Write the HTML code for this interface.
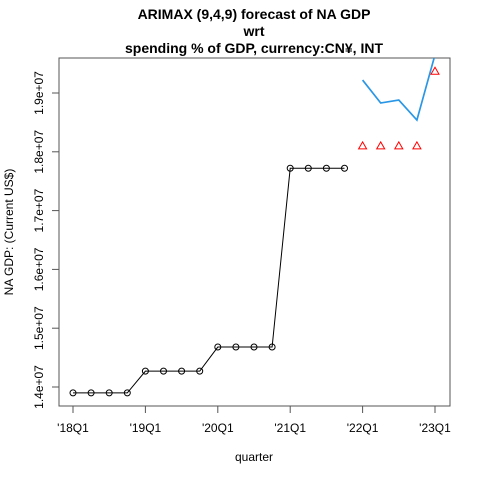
<!DOCTYPE html>
<html><head><meta charset="utf-8"><style>
body{margin:0;background:#fff;}
svg{display:block;font-family:"Liberation Sans",sans-serif;}
</style></head><body>
<svg id="c" width="480" height="480">
<defs><clipPath id="clip"><rect x="59" y="58" width="391" height="348"/></clipPath></defs>
<g font-weight="bold" font-size="14" text-anchor="middle" style="white-space:pre">
<text x="254" y="19">ARIMAX (9,4,9) forecast of  NA GDP</text>
<text x="254" y="36">wrt</text>
<text x="254" y="53">spending % of GDP, currency:CN¥, INT</text>
</g>
<rect x="59" y="58" width="391" height="348" fill="none" stroke="#555" stroke-width="1"/>
<text x="254" y="461" font-size="12" text-anchor="middle">quarter</text>
<text transform="translate(13,232) rotate(-90)" font-size="12" text-anchor="middle">NA GDP: (Current US$)</text>
<g id="axes"></g>
<g id="marks" clip-path="url(#clip)"></g>
</svg>
<script>
const histX=[0,1,2,3,4,5,6,7,8,9,10,11,12,13,14,15];
const histY=[13.9,13.9,13.9,13.9,14.27,14.27,14.27,14.27,14.68,14.68,14.68,14.68,17.72,17.72,17.72,17.72];
const fcX=[16,17,18,19,20];
const fcLine=[19.22,18.83,18.88,18.54,19.65];
const fcTri=[18.1,18.1,18.1,18.1,19.37];
const xTicks=["'18Q1","'19Q1","'20Q1","'21Q1","'22Q1","'23Q1"];
const yTicks=[14,15,16,17,18,19];
const yTickLabels=["1.4e+07","1.5e+07","1.6e+07","1.7e+07","1.8e+07","1.9e+07"];
const NS="http://www.w3.org/2000/svg";
const sx=q=>73+q*18.1;
const sy=v=>387-(v-14)*58.8;
function mk(t,a,p){const e=document.createElementNS(NS,t);for(const k in a)e.setAttribute(k,a[k]);p.appendChild(e);return e;}
const ax=document.getElementById('axes'),mg=document.getElementById('marks');
mk('line',{x1:sx(0),x2:sx(20),y1:406,y2:406,stroke:'#555'},ax);
xTicks.forEach((l,i)=>{const x=sx(i*4);
mk('line',{x1:x,x2:x,y1:406,y2:413,stroke:'#555'},ax);
const t=mk('text',{x:x,y:432,'font-size':12,'text-anchor':'middle'},ax);t.textContent=l;

});
mk('line',{x1:59,x2:59,y1:sy(14),y2:sy(19),stroke:'#555'},ax);
yTicks.forEach((v,i)=>{const y=sy(v);
mk('line',{x1:52,x2:59,y1:y,y2:y,stroke:'#555'},ax);
const t=mk('text',{transform:`translate(43,${y}) rotate(-90)`,'font-size':12,'text-anchor':'middle'},ax);t.textContent=yTickLabels[i];

});
const hl=mk('polyline',{points:histX.map((q,i)=>sx(q)+','+sy(histY[i])).join(' '),fill:'none',stroke:'#000','stroke-width':1},mg);


histX.forEach((q,i)=>{const c=mk('circle',{cx:sx(q),cy:sy(histY[i]),r:3,fill:'none',stroke:'#000'},mg);

});
const fl=mk('polyline',{points:fcX.map((q,i)=>sx(q)+','+sy(fcLine[i])).join(' '),fill:'none',stroke:'#2a96e6','stroke-width':1.7},mg);


fcX.forEach((q,i)=>{const x=sx(q),y=sy(fcTri[i]);
const p=mk('polygon',{points:`${x},${y-4} ${x-4},${y+3} ${x+4},${y+3}`,fill:'none',stroke:'#f00'},mg);

});
</script>
</body></html>
